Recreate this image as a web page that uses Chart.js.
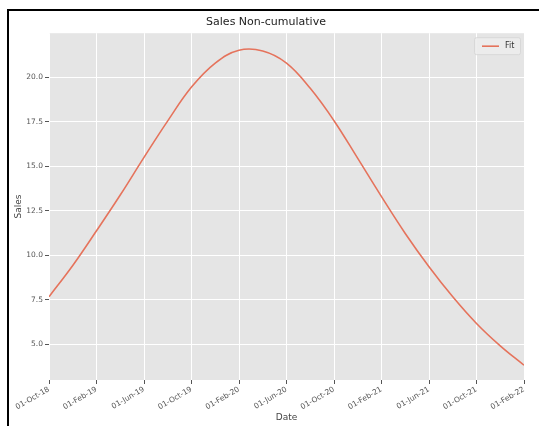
<!DOCTYPE html>
<html>
<head>
<meta charset="utf-8">
<script src="https://cdn.jsdelivr.net/npm/chart.js@4.4.1/dist/chart.umd.min.js"></script>
<style>
  html, body { margin: 0; padding: 0; background: #fff; overflow: hidden; }
  #frame { position: absolute; left: 7px; top: 9px; width: 700px; height: 600px; border: 2px solid #000; background: #fff; }
  #wrap { position: absolute; left: 0; top: 0; width: 539px; height: 426px; }
</style>
</head>
<body>
<div id="frame"></div>
<div id="wrap"><canvas id="c" width="539" height="426"></canvas></div>
<script>
// Months elapsed since 01-Oct-18 and the fitted non-cumulative sales at each
const monthOffsets = [0, 2, 4, 6, 8, 10, 12, 14, 16, 18, 20, 22, 24, 26, 28, 30, 32, 34, 36, 38, 40];
const fitSales    = [7.66, 9.42, 11.37, 13.38, 15.5, 17.55, 19.45, 20.8, 21.52, 21.48, 20.8, 19.38, 17.56, 15.44, 13.29, 11.22, 9.35, 7.66, 6.16, 4.9, 3.81];

// Axis ticks
const dateTickMonths = [0, 4, 8, 12, 16, 20, 24, 28, 32, 36, 40];
const dateTickLabels = ['01-Oct-18', '01-Feb-19', '01-Jun-19', '01-Oct-19', '01-Feb-20', '01-Jun-20',
                        '01-Oct-20', '01-Feb-21', '01-Jun-21', '01-Oct-21', '01-Feb-22'];
const salesTicks = [5.0, 7.5, 10.0, 12.5, 15.0, 17.5, 20.0];

const FONT = "'DejaVu Sans', sans-serif";
const LINE_COLOR = '#E5735C';

// Grey panel behind the plot area
const panelBg = {
  id: 'panelBg',
  beforeDraw(chart) {
    const { ctx, chartArea: a } = chart;
    ctx.save();
    ctx.fillStyle = '#E5E5E5';
    ctx.fillRect(a.left, a.top, a.right - a.left, a.bottom - a.top);
    ctx.restore();
  }
};

// Legend box in the upper-right corner of the panel
const fitLegend = {
  id: 'fitLegend',
  afterDatasetsDraw(chart) {
    const { ctx, chartArea: a } = chart;
    const ds = chart.data.datasets[0];
    const w = 46, h = 17;
    const x = a.right - w - 4, y = a.top + 4;
    ctx.save();
    ctx.fillStyle = 'rgba(236,236,236,0.9)';
    ctx.strokeStyle = '#D8D8D8';
    ctx.lineWidth = 1;
    ctx.beginPath();
    ctx.roundRect(x + 0.5, y + 0.5, w, h, 2);
    ctx.fill();
    ctx.stroke();
    ctx.strokeStyle = ds.borderColor;
    ctx.lineWidth = 1.6;
    ctx.beginPath();
    ctx.moveTo(x + 8, y + h / 2 + 0.5);
    ctx.lineTo(x + 25, y + h / 2 + 0.5);
    ctx.stroke();
    ctx.fillStyle = '#333';
    ctx.font = "8px " + FONT;
    ctx.textBaseline = 'middle';
    ctx.fillText(ds.label, x + 31, y + h / 2 + 0.5);
    ctx.restore();
  }
};

new Chart(document.getElementById('c'), {
  type: 'line',
  data: {
    datasets: [{
      label: 'Fit',
      data: monthOffsets.map((m, i) => ({ x: m, y: fitSales[i] })),
      borderColor: LINE_COLOR,
      borderWidth: 1.6,
      pointRadius: 0,
      tension: 0.4,
      fill: false
    }]
  },
  options: {
    responsive: false,
    animation: false,
    devicePixelRatio: 1,
    layout: { padding: { left: 8, right: 15, top: 10, bottom: 0 } },
    plugins: {
      legend: { display: false },
      tooltip: { enabled: false },
      title: {
        display: true,
        text: 'Sales Non-cumulative',
        color: '#222',
        font: { family: FONT, size: 11, weight: 'normal' },
        padding: { top: 6, bottom: 4 }
      }
    },
    scales: {
      x: {
        type: 'linear',
        min: 0,
        max: 40,
        afterBuildTicks(scale) { scale.ticks = dateTickMonths.map(v => ({ value: v })); },
        afterFit(scale) { scale.height = 46; },
        ticks: {
          minRotation: 30,
          maxRotation: 30,
          autoSkip: false,
          padding: 1,
          color: '#555',
          font: { family: FONT, size: 7.5 },
          callback: (v) => dateTickLabels[dateTickMonths.indexOf(v)]
        },
        grid: { color: '#FFFFFF', lineWidth: 1, tickColor: '#555', tickLength: 4, drawTicks: true },
        border: { display: false },
        title: {
          display: true,
          text: 'Date',
          color: '#444',
          font: { family: FONT, size: 9 },
          padding: { top: 0, bottom: 3 }
        }
      },
      y: {
        type: 'linear',
        min: 2.98,
        max: 22.48,
        afterBuildTicks(scale) { scale.ticks = salesTicks.map(v => ({ value: v })); },
        afterFit(scale) { scale.width = 41; },
        ticks: {
          padding: 2,
          color: '#555',
          font: { family: FONT, size: 7.5 },
          callback: (v) => Number(v).toFixed(1)
        },
        grid: { color: '#FFFFFF', lineWidth: 1, tickColor: '#555', tickLength: 4, drawTicks: true },
        border: { display: false },
        title: {
          display: true,
          text: 'Sales',
          color: '#444',
          font: { family: FONT, size: 9 },
          padding: { top: 5, bottom: 0 }
        }
      }
    }
  },
  plugins: [panelBg, fitLegend]
});
</script>
</body>
</html>
